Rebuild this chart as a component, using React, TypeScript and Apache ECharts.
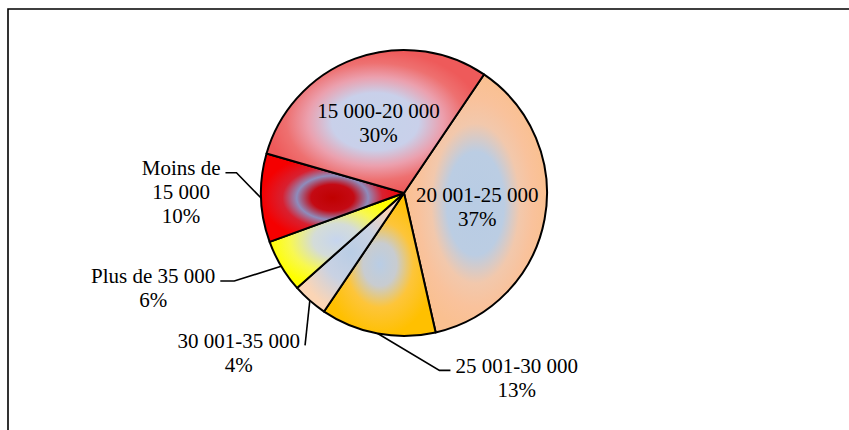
import React, { useEffect, useRef } from "react";
import * as echarts from "echarts";

const categories = [
  "20 001-25 000",
  "25 001-30 000",
  "30 001-35 000",
  "Plus de 35 000",
  "Moins de 15 000",
  "15 000-20 000",
];
const values = [37, 13, 4, 6, 10, 30];

// display wrapping for labels
const wrappedNames: Record<string, string> = {
  "Moins de 15 000": "Moins de\n15 000",
};

// gradient colours per slice (centre -> edge)
const sliceStops: [number, string][][] = [
  [[0, "#B8CCE4"], [0.4, "#BBCDE3"], [0.62, "#F2C8AC"], [0.8, "#F9C29C"], [1, "#FAC090"]],
  [[0, "#B9CDE5"], [0.3, "#C8CCD0"], [0.6, "#FDC53A"], [1, "#FFC000"]],
  [[0, "#B9CDE5"], [0.5, "#C9D2E3"], [1, "#FBD5B5"]],
  [[0, "#C6D5EE"], [0.35, "#D4DCD8"], [0.7, "#F8F850"], [1, "#FFFF00"]],
  [[0, "#C00000"], [0.3, "#C40A14"], [0.5, "#8E8CBC"], [0.7, "#D82030"], [1, "#F50000"]],
  [[0, "#C5D3EA"], [0.4, "#C9D0EA"], [0.62, "#EBA0AE"], [0.82, "#EE7070"], [1, "#EE5A5A"]],
];

const insideLabels = [true, false, false, false, false, true];
// label centre offset from the pie-edge anchor, and elbow length
const labelOffsets: ([number, number, number] | null)[] = [
  null,
  [139, 44, 11],
  [-71, 52, 0],
  [-128, 22, 14],
  [-80, -6, 11],
  null,
];

const LINE_H = 24;

export default function App() {
  const ref = useRef<HTMLDivElement>(null);
  useEffect(() => {
    if (!ref.current) return;
    const chart = echarts.init(ref.current, null, { renderer: "svg" });
    const data = categories.map((name, i) => ({
      name,
      value: values[i],
      itemStyle: {
        color: {
          type: "radial",
          x: 0.5,
          y: 0.5,
          r: 0.5,
          colorStops: sliceStops[i].map(([offset, color]) => ({ offset, color })),
        },
      },
      label: insideLabels[i] ? { position: "inside" } : { position: "outside" },
      labelLine: { show: !insideLabels[i] },
    }));
    chart.setOption({
      animation: false,
      backgroundColor: "#fff",
      graphic: [
        {
          type: "rect",
          shape: { x: 8, y: 9, width: 900, height: 500 },
          style: { fill: "none", stroke: "#000", lineWidth: 1.6 },
          silent: true,
        },
      ],
      series: [
        {
          type: "pie",
          center: [404, 193],
          radius: 143,
          startAngle: 56,
          clockwise: true,
          avoidLabelOverlap: false,
          data,
          itemStyle: { borderColor: "#000", borderWidth: 2 },
          label: {
            fontFamily: "'Liberation Serif', 'Times New Roman', serif",
            fontSize: 21,
            lineHeight: LINE_H,
            color: "#000",
            align: "center",
            formatter: (p: any) =>
              `${wrappedNames[p.name] ?? p.name}\n${Math.round(p.percent)}%`,
          },
          labelLine: {
            show: true,
            lineStyle: { color: "#000", width: 1.6 },
          },
          labelLayout: (params: any) => {
            const off = labelOffsets[params.dataIndex];
            if (!off || !params.labelLinePoints) return {};
            const [ax, ay] = params.labelLinePoints[0];
            const cx = ax + off[0];
            const cy = ay + off[1];
            const w = params.labelRect.width;
            const h = params.labelRect.height;
            const top = cy - h / 2;
            const side = off[0] > 0 ? -1 : 1;
            const endX = cx + side * (w / 2 + 5);
            const endY = top + LINE_H * 0.7;
            const elbowX = endX + side * off[2];
            return {
              x: cx,
              y: cy,
              align: "center",
              verticalAlign: "middle",
              labelLinePoints: [
                [ax, ay],
                [elbowX, endY],
                [endX, endY],
              ],
            };
          },
        },
      ],
    });
    return () => chart.dispose();
  }, []);
  return (
    <div
      ref={ref}
      style={{ position: "fixed", left: 0, top: 0, width: 849, height: 430 }}
    />
  );
}
